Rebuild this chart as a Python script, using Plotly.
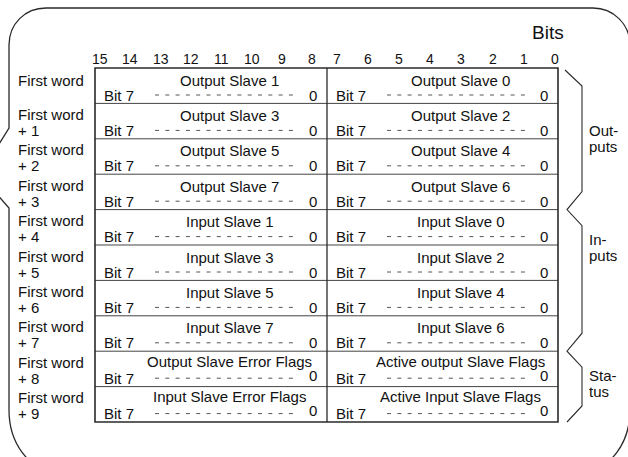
import plotly.graph_objects as go

# ---------------- data ----------------
bit_labels = ["15", "14", "13", "12", "11", "10", "9", "8",
              "7", "6", "5", "4", "3", "2", "1", "0"]
word_labels = ["First word"] * 10
word_offsets = ["", "+ 1", "+ 2", "+ 3", "+ 4", "+ 5", "+ 6", "+ 7", "+ 8", "+ 9"]
high_byte = ["Output Slave 1", "Output Slave 3", "Output Slave 5", "Output Slave 7",
             "Input Slave 1", "Input Slave 3", "Input Slave 5", "Input Slave 7",
             "Output Slave Error Flags", "Input Slave Error Flags"]
low_byte = ["Output Slave 0", "Output Slave 2", "Output Slave 4", "Output Slave 6",
            "Input Slave 0", "Input Slave 2", "Input Slave 4", "Input Slave 6",
            "Active output Slave Flags", "Active Input Slave Flags"]
msb_label = "Bit 7"
lsb_label = "0"
group_line1 = ["Out-", "In-", "Sta-"]
group_line2 = ["puts", "puts", "tus"]
group_first_row = [0, 4, 8]
group_last_row = [4, 8, 10]
axis_title = "Bits"

# ---------------- geometry / style ----------------
W, H = 628, 457
FONT = "Liberation Sans, Arial, Helvetica, sans-serif"
TXT = "#111111"
LINE = "#2a2a2a"
X0, XM, X1 = 95, 327, 558
Y0, RH = 68, 35.4
status_rows = {8, 9}
group_label_shift = [0, -33, -3]

fig = go.Figure()
fig.add_trace(go.Scatter(x=[0, W], y=[0, H], mode="markers",
                         marker=dict(opacity=0), hoverinfo="skip", showlegend=False))

shapes = []
ann = []


def text(x, y, s, size=15, anchor="center"):
    ann.append(dict(x=x, y=y, xref="x", yref="y", text=s,
                    showarrow=False, xanchor=anchor, yanchor="middle",
                    font=dict(family=FONT, size=size, color=TXT), borderpad=0))


def line(xa, ya, xb, yb, width=1.0, color=LINE, dash=None):
    d = dict(width=width, color=color)
    if dash:
        d["dash"] = dash
    shapes.append(dict(type="line", xref="x", yref="y", x0=xa, y0=ya, x1=xb, y1=yb,
                       line=d, layer="above"))


n_rows = len(high_byte)
y_end = Y0 + RH * n_rows

# outer rounded frame (cropped on right/bottom/left notch)
frame = ("M 9,45 C 9,24 25,8 46,8 L 593,8 C 613,8 630,24 630,45 "
         "L 630,410 C 630,443 610,470 585,470 "
         "L 54,470 C 29,470 9,443 9,410 L 9,208 L -20,175 L 9,128 Z")
shapes.append(dict(type="path", xref="x", yref="y", path=frame,
                   line=dict(color=LINE, width=1.3), layer="above"))

# bit numbers
for k, b in enumerate(bit_labels):
    if k < 8:
        x = 100 + k * 30.3
    else:
        x = 337 + (k - 8) * 31.1
    text(x, 59, b, size=14)
text(548, 32, axis_title, size=19)

# table rows
for i in range(n_rows):
    yt = Y0 + RH * i
    # row labels
    if word_offsets[i]:
        text(17, yt + 11, word_labels[i], anchor="left")
        text(17, yt + 27, word_offsets[i], anchor="left")
    else:
        text(17, yt + 12, word_labels[i], anchor="left")
    # row divider
    if i > 0:
        line(X0, yt, X1, yt, width=1.0, color="#444444")
    for (cl, cr, title) in ((X0, XM, high_byte[i]), (XM, X1, low_byte[i])):
        st = i in status_rows
        cx = cl + 0.58 * (cr - cl)
        text(cx, yt + (10 if st else 12), title)
        text(cl + 8, yt + 27, msb_label, anchor="left")
        text(cr - 14, yt + (24 if st else 27), lsb_label)
        line(cl + 60, yt + 27, cr - 30, yt + 27, width=1.0, color="#555555", dash="4px,6.3px")

# table border + middle divider
shapes.append(dict(type="rect", xref="x", yref="y", x0=X0, y0=Y0, x1=X1, y1=y_end,
                   line=dict(color=LINE, width=1.6), layer="above"))
line(XM, Y0, XM, y_end, width=1.3)

# right-hand braces
BX, TX = 582, 567
pts = [(TX - 2, Y0 + 2), (BX, Y0 + 18)]
for g in range(1, len(group_first_row)):
    b = Y0 + RH * group_first_row[g]
    pts += [(BX, b - 18), (TX, b), (BX, b + 16)]
pts += [(BX, y_end - 16), (TX, y_end)]
brace = "M " + " L ".join(f"{x:.1f},{y:.1f}" for x, y in pts)
shapes.append(dict(type="path", xref="x", yref="y", path=brace,
                   line=dict(color=LINE, width=1.1), layer="above"))

for g in range(len(group_line1)):
    ymid = Y0 + RH * (group_first_row[g] + group_last_row[g]) / 2 + group_label_shift[g]
    text(588, ymid - 8, group_line1[g], anchor="left")
    text(588, ymid + 8, group_line2[g], anchor="left")

fig.update_layout(
    width=W, height=H, margin=dict(l=0, r=0, t=0, b=0),
    paper_bgcolor="white", plot_bgcolor="white",
    xaxis=dict(range=[0, W], visible=False, fixedrange=True),
    yaxis=dict(range=[H, 0], visible=False, fixedrange=True),
    shapes=shapes, annotations=ann, showlegend=False,
)
fig.write_html("out.html", config={"displayModeBar": False},
               post_script="document.body.style.margin='0px';document.body.style.overflow='hidden';")
